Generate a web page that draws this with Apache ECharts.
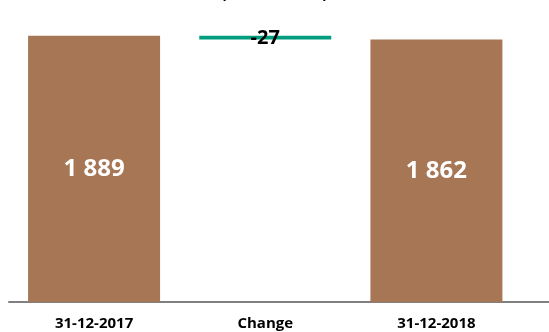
<!DOCTYPE html>
<html>
<head>
<meta charset="utf-8">
<script src="https://cdn.jsdelivr.net/npm/echarts@6/dist/echarts.min.js"></script>
<style>
  html, body { margin: 0; padding: 0; background: #fff; }
  #chart { width: 549px; height: 332px; }
</style>
</head>
<body>
<div id="chart"></div>
<script>
// Waterfall: opening balance, change, closing balance
const categories = ['31-12-2017', 'Change', '31-12-2018'];
const openingValue = 1889;
const closingValue = 1862;
const changeValue = -27;
const titleText = '(NOK million)';

const fmt = v => String(v).replace(/\B(?=(\d{3})+(?!\d))/g, ' ');

const totals = [openingValue, '-', closingValue];
const floatBase = ['-', Math.min(openingValue, closingValue), '-'];
const floatSize = ['-', Math.abs(changeValue), '-'];

const FONT = '"Open Sans", "Noto Sans", sans-serif';

const chart = echarts.init(document.getElementById('chart'), null, { renderer: 'canvas' });
chart.setOption({
  animation: false,
  title: {
    text: titleText,
    left: 'center',
    top: -19,
    textStyle: { fontFamily: FONT, fontWeight: 'bold', fontSize: 16, color: '#000' }
  },
  grid: [
    { left: 8.5, right: 27, top: 20, bottom: 30 },
    { left: 9, right: 0, top: 20, bottom: 30 }
  ],
  xAxis: [
    {
      type: 'category',
      gridIndex: 0,
      data: categories,
      axisLine: { show: false },
      axisTick: { show: false },
      axisLabel: {
        margin: 14,
        fontFamily: FONT,
        fontWeight: 'bold',
        fontSize: 15,
        color: '#000'
      }
    },
    {
      type: 'value',
      gridIndex: 1,
      min: 0,
      max: 1,
      axisLine: { show: true, onZero: false, lineStyle: { color: '#808080', width: 2 } },
      axisTick: { show: false },
      axisLabel: { show: false },
      splitLine: { show: false }
    }
  ],
  yAxis: [
    { type: 'value', gridIndex: 0, min: 0, max: 2000, show: false },
    { type: 'value', gridIndex: 1, min: 0, max: 1, show: false }
  ],
  series: [
    {
      name: 'Balance',
      type: 'bar',
      stack: 'wf',
      barWidth: 132,
      data: totals,
      itemStyle: { color: '#A67655' },
      label: {
        show: true,
        position: 'inside',
        formatter: p => fmt(p.value),
        fontFamily: FONT,
        fontWeight: 'bold',
        fontSize: 24,
        color: '#fff'
      }
    },
    {
      name: 'Base',
      type: 'bar',
      stack: 'wf',
      barWidth: 132,
      data: floatBase,
      itemStyle: { color: 'transparent' },
      silent: true
    },
    {
      name: 'Change',
      type: 'bar',
      stack: 'wf',
      barWidth: 132,
      data: floatSize,
      itemStyle: { color: '#009E7E' },
      label: {
        show: true,
        position: 'inside',
        offset: [0, 1],
        formatter: () => String(changeValue),
        fontFamily: FONT,
        fontWeight: 'bold',
        fontSize: 20,
        color: '#000'
      }
    }
  ]
});
</script>
</body>
</html>
